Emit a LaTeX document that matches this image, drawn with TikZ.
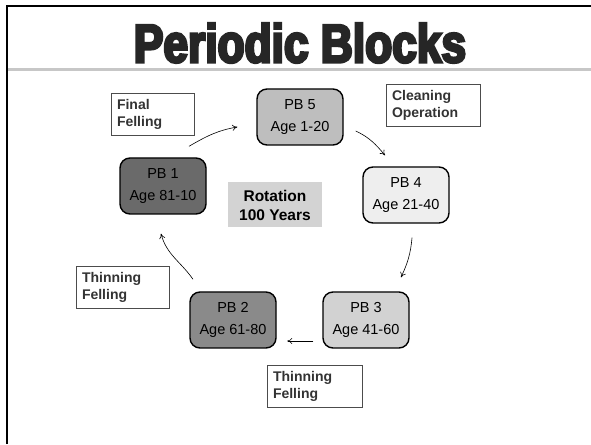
\documentclass[tikz,border=0pt]{standalone}
\usepackage{fontspec}
\setmainfont{Liberation Sans}
\newfontfamily\titlefont[FakeStretch=0.82,FakeBold=5]{Liberation Sans}
\usetikzlibrary{arrows.meta}
\definecolor{pbfive}{HTML}{BEBEBE}
\definecolor{pbfour}{HTML}{EEEEEE}
\definecolor{pbthree}{HTML}{D2D2D2}
\definecolor{pbtwo}{HTML}{8A8A8A}
\definecolor{pbone}{HTML}{6A6A6A}
\definecolor{rotfill}{HTML}{D3D3D3}
\definecolor{labtext}{HTML}{333333}
\definecolor{titletext}{HTML}{262626}
\tikzset{
  pbbox/.style={draw=black, line width=1.4pt, rounded corners=10pt, minimum width=86pt, minimum height=56pt, inner sep=0pt, align=center, font=\fontsize{14.5}{22}\selectfont},
  labbox/.style={draw=black!70, line width=0.8pt, inner xsep=6pt, inner ysep=0pt, minimum height=42pt, align=left, text=labtext, font=\bfseries\fontsize{14}{17}\selectfont},
  cyc/.style={-{To[length=5pt,width=6pt]}, line width=0.6pt, black}
}
\begin{document}
\begin{tikzpicture}[x=1pt,y=1pt]
\useasboundingbox (0,0) rectangle (591,444);
\fill[white] (0,0) rectangle (591,444);
% frame
\draw[line width=2.2pt, black] (7,0) -- (7,438) -- (591,438);
\draw[line width=3pt, black!22] (8,374) -- (591,374);
% title
\node[text=titletext, font=\titlefont\bfseries\fontsize{54}{54}\selectfont] (title) at (300,401) {Periodic Blocks};
% periodic blocks
\node[pbbox, fill=pbfive] (pb5) at (300,327) {PB 5\\Age 1-20};
\node[pbbox, fill=pbfour] (pb4) at (406,249) {PB 4\\Age 21-40};
\node[pbbox, fill=pbthree] (pb3) at (366,124) {PB 3\\Age 41-60};
\node[pbbox, fill=pbtwo] (pb2) at (233,124) {PB 2\\Age 61-80};
\node[pbbox, fill=pbone] (pb1) at (163,258) {PB 1\\Age 81-10};
% centre
\node[fill=rotfill, minimum width=94pt, minimum height=45pt, inner sep=0pt, align=center, font=\bfseries\fontsize{15.5}{19}\selectfont] (rot) at (275,239) {Rotation\\100 Years};
% labels
\node[labbox, text width=71pt] (final) at (152.5,330) {Final\\Felling};
\node[labbox, text width=82pt] (clean) at (433,339) {Cleaning\\Operation};
\node[labbox, text width=81pt] (thinA) at (122.5,157) {Thinning\\Felling};
\node[labbox, text width=83pt] (thinB) at (314.5,58) {Thinning\\Felling};
% arrows
\draw[cyc] ([shift={(26,11)}]pb1.north) to[out=30, in=190] ([shift={(-19,-10)}]pb5.west);
\draw[cyc] ([shift={(12,-14)}]pb5.east) to[out=-25, in=130] ([shift={(-21,11)}]pb4.north);
\draw[cyc] ([shift={(6,-14)}]pb4.south) to[out=-95, in=65] ([shift={(35,14)}]pb3.north);
\draw[cyc] ([shift={(-9,-21)}]pb3.west) -- ([shift={(10.5,-21)}]pb2.east);
\draw[cyc] ([shift={(-40,12)}]pb2.north) to[out=125, in=-75] ([shift={(-2,-19)}]pb1.south);
\end{tikzpicture}
\end{document}
